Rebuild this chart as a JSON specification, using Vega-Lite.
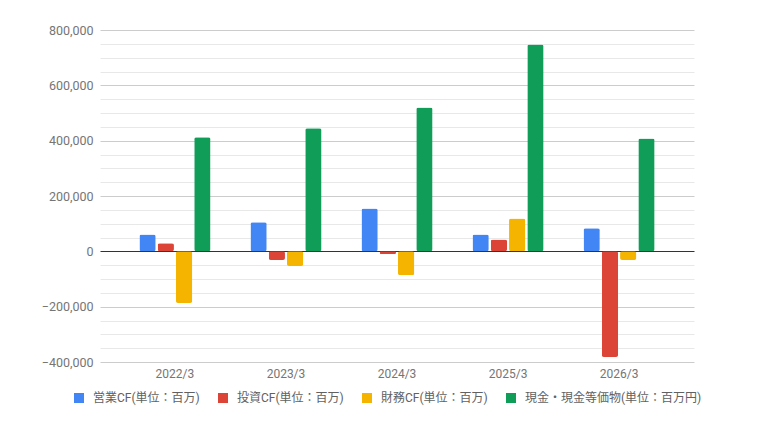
{
  "$schema": "https://vega.github.io/schema/vega-lite/v6.json",
  "autosize": {"type": "none"},
  "width": 594,
  "height": 332,
  "padding": {"left": 100, "top": 30, "right": 75, "bottom": 66},
  "background": "white",
  "data": {"values": [
    {"year": "2022/3", "series": "営業CF(単位：百万)", "value": 61000},
    {"year": "2022/3", "series": "投資CF(単位：百万)", "value": 29000},
    {"year": "2022/3", "series": "財務CF(単位：百万)", "value": -187000},
    {"year": "2022/3", "series": "現金・現金等価物(単位：百万円)", "value": 412000},
    {"year": "2023/3", "series": "営業CF(単位：百万)", "value": 105000},
    {"year": "2023/3", "series": "投資CF(単位：百万)", "value": -31000},
    {"year": "2023/3", "series": "財務CF(単位：百万)", "value": -53000},
    {"year": "2023/3", "series": "現金・現金等価物(単位：百万円)", "value": 445000},
    {"year": "2024/3", "series": "営業CF(単位：百万)", "value": 155000},
    {"year": "2024/3", "series": "投資CF(単位：百万)", "value": -10000},
    {"year": "2024/3", "series": "財務CF(単位：百万)", "value": -86000},
    {"year": "2024/3", "series": "現金・現金等価物(単位：百万円)", "value": 520000},
    {"year": "2025/3", "series": "営業CF(単位：百万)", "value": 61000},
    {"year": "2025/3", "series": "投資CF(単位：百万)", "value": 43000},
    {"year": "2025/3", "series": "財務CF(単位：百万)", "value": 119000},
    {"year": "2025/3", "series": "現金・現金等価物(単位：百万円)", "value": 748000},
    {"year": "2026/3", "series": "営業CF(単位：百万)", "value": 83000},
    {"year": "2026/3", "series": "投資CF(単位：百万)", "value": -382000},
    {"year": "2026/3", "series": "財務CF(単位：百万)", "value": -31000},
    {"year": "2026/3", "series": "現金・現金等価物(単位：百万円)", "value": 408000}
  ]},
  "mark": {"type": "bar", "cornerRadius": 2},
  "encoding": {
    "x": {
      "field": "year", "type": "nominal",
      "scale": {"paddingInner": 0.36, "paddingOuter": 0.355},
      "axis": {
        "title": null, "labelAngle": 0, "ticks": false, "domain": false,
        "labelColor": "#757575", "labelFont": "Roboto", "labelFontSize": 12,
        "labelPadding": 6
      }
    },
    "xOffset": {
      "field": "series", "type": "nominal",
      "sort": ["営業CF(単位：百万)", "投資CF(単位：百万)", "財務CF(単位：百万)", "現金・現金等価物(単位：百万円)"],
      "scale": {"paddingInner": 0.11, "paddingOuter": 0}
    },
    "y": {
      "field": "value", "type": "quantitative",
      "scale": {"domain": [-400000, 800000], "nice": false, "zero": false},
      "axis": {
        "title": null, "ticks": false, "domain": false,
        "values": [-400000, -350000, -300000, -250000, -200000, -150000, -100000, -50000, 0, 50000, 100000, 150000, 200000, 250000, 300000, 350000, 400000, 450000, 500000, 550000, 600000, 650000, 700000, 750000, 800000],
        "labelExpr": "datum.value % 200000 === 0 ? format(datum.value, ',') : ''",
        "labelColor": "#757575", "labelFont": "Roboto", "labelFontSize": 12.5,
        "labelPadding": 7,
        "gridColor": {"condition": [
          {"test": "datum.value === 0", "value": "#333333"},
          {"test": "datum.value % 200000 === 0", "value": "#cccccc"}
        ], "value": "#e8e8e8"},
        "gridOpacity": 1
      }
    },
    "color": {
      "field": "series", "type": "nominal",
      "sort": ["営業CF(単位：百万)", "投資CF(単位：百万)", "財務CF(単位：百万)", "現金・現金等価物(単位：百万円)"],
      "scale": {
        "domain": ["営業CF(単位：百万)", "投資CF(単位：百万)", "財務CF(単位：百万)", "現金・現金等価物(単位：百万円)"],
        "range": ["#4285F4", "#DB4437", "#F4B400", "#0F9D58"]
      },
      "legend": {
        "title": null, "orient": "none", "direction": "horizontal",
        "legendX": -27, "legendY": 362,
        "symbolType": "square", "symbolSize": 100, "symbolStrokeWidth": 0,
        "labelFont": "Roboto, Noto Sans CJK JP", "labelFontSize": 12,
        "labelColor": "#616161", "labelOffset": 8, "columnPadding": 17,
        "labelLimit": 300
      }
    }
  },
  "config": {
    "view": {"stroke": null},
    "font": "Roboto, Noto Sans CJK JP"
  }
}
